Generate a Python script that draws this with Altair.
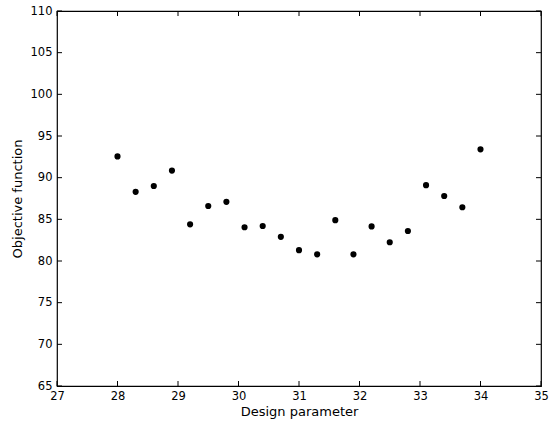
import altair as alt
import pandas as pd

# Data
design = [28.0, 28.3, 28.6, 28.9, 29.2, 29.5, 29.8, 30.1, 30.4, 30.7, 31.0,
          31.3, 31.6, 31.9, 32.2, 32.5, 32.8, 33.1, 33.4, 33.7, 34.0]
objective = [92.55, 88.3, 89.0, 90.85, 84.4, 86.6, 87.1, 84.05, 84.2, 82.9, 81.3,
             80.8, 84.9, 80.8, 84.15, 82.25, 83.6, 89.1, 87.8, 86.45, 93.4]
x_ticks = [27, 28, 29, 30, 31, 32, 33, 34, 35]
y_ticks = [65, 70, 75, 80, 85, 90, 95, 100, 105, 110]

W, H = 484, 375
FONT = "DejaVu Sans"
FS = 11.5
TFS = 13

df = pd.DataFrame({"x": design, "y": objective})
dfx = pd.DataFrame({"x": x_ticks})
dfy = pd.DataFrame({"y": y_ticks})

xscale = alt.Scale(domain=[27, 35], nice=False, zero=False)
yscale = alt.Scale(domain=[65, 110], nice=False, zero=False)

xaxis = alt.Axis(values=x_ticks, ticks=False, domain=False, grid=False,
                 labelFont=FONT, labelFontSize=FS, labelColor="black",
                 labelPadding=4, labelFlush=False, labelOverlap=False,
                 title="Design parameter", titleFont=FONT, titleFontSize=TFS,
                 titleFontWeight="normal", titleColor="black", titlePadding=4)
yaxis = alt.Axis(values=y_ticks, ticks=False, domain=False, grid=False,
                 labelFont=FONT, labelFontSize=FS, labelColor="black",
                 labelPadding=5, labelFlush=False, labelOverlap=False,
                 title="Objective function", titleFont=FONT, titleFontSize=TFS,
                 titleFontWeight="normal", titleColor="black", titlePadding=6)

X = alt.X("x:Q", scale=xscale, axis=xaxis)
Y = alt.Y("y:Q", scale=yscale, axis=yaxis)

points = alt.Chart(df).mark_circle(size=38, color="black", opacity=1).encode(x=X, y=Y)

tl = 5
bottom = alt.Chart(dfx).mark_rule(color="black", strokeWidth=1).encode(
    x=X, y=alt.value(H), y2=alt.value(H - tl))
top = alt.Chart(dfx).mark_rule(color="black", strokeWidth=1).encode(
    x=X, y=alt.value(0), y2=alt.value(tl))
left = alt.Chart(dfy).mark_rule(color="black", strokeWidth=1).encode(
    y=Y, x=alt.value(0), x2=alt.value(tl))
right = alt.Chart(dfy).mark_rule(color="black", strokeWidth=1).encode(
    y=Y, x=alt.value(W), x2=alt.value(W - tl))

chart = alt.layer(bottom, top, left, right, points).properties(
    width=W, height=H,
    autosize=alt.AutoSizeParams(type="none"),
    padding={"left": 57, "top": 11, "right": 9, "bottom": 37},
    background="white",
).configure_view(stroke="black", strokeWidth=1.2)

chart.save("out.html", embed_options={"renderer": "svg", "actions": False})
